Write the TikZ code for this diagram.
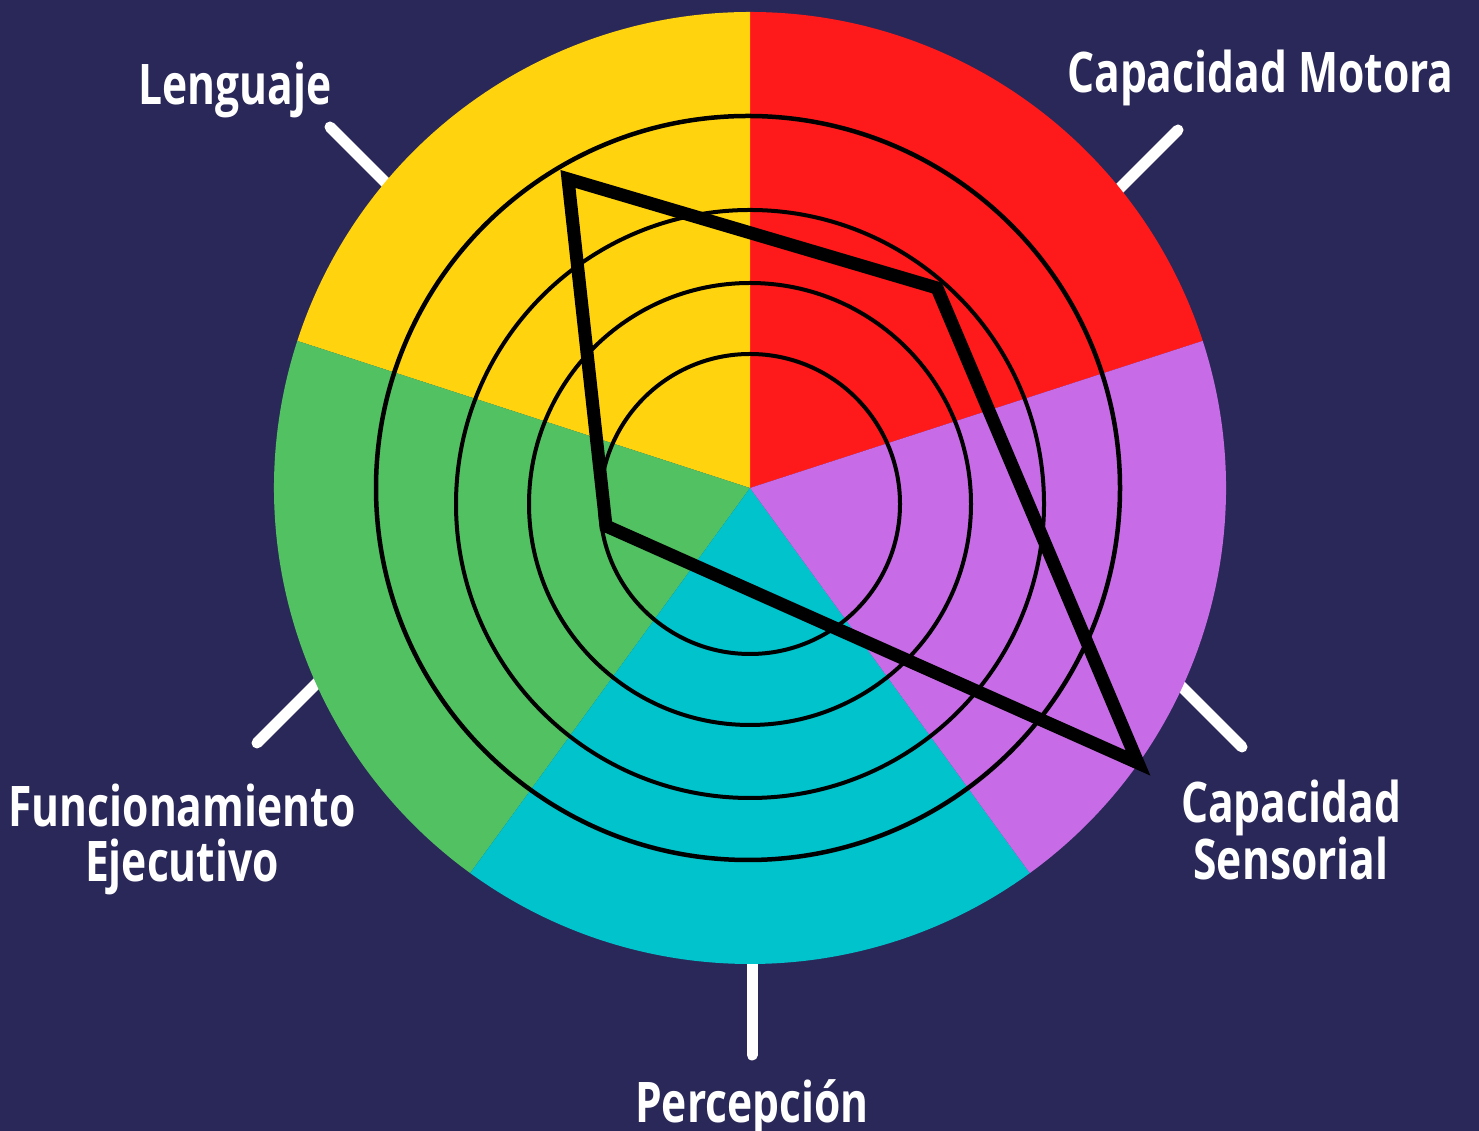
\documentclass[tikz,border=0pt]{standalone}
\usepackage{fontspec}
\newfontfamily\lab{Open Sans}[FakeStretch=0.76]
\definecolor{bg}{HTML}{2A2858}
\definecolor{cyel}{HTML}{FFD30D}
\definecolor{cred}{HTML}{FE1A1A}
\definecolor{cpur}{HTML}{C86BE6}
\definecolor{ccya}{HTML}{00C3CC}
\definecolor{cgre}{HTML}{52C162}
\begin{document}
\begin{tikzpicture}[x=1pt,y=1pt,
  tickline/.style={draw=white,line width=11pt,line cap=round},
  ring/.style={draw=black,line width=4pt},
  lbl/.style={text=white,font=\lab\bfseries\fontsize{56pt}{55pt}\selectfont,inner sep=0pt,align=center}]
\fill[bg] (0,0) rectangle (1479,1131);
\useasboundingbox (0,0) rectangle (1479,1131);
\coordinate (C) at (750,643);
% ticks (inner ends hidden under the disk)
\coordinate (t1a) at (330,1004); \coordinate (t1b) at (420,914);
\coordinate (t2a) at (1178,1001); \coordinate (t2b) at (1090,913);
\coordinate (t3a) at (1242,384); \coordinate (t3b) at (1160,466);
\coordinate (t4a) at (257,388); \coordinate (t4b) at (340,471);
\coordinate (t5a) at (752,76); \coordinate (t5b) at (752,191);
\draw[tickline] (t1a) -- (t1b);
\draw[tickline] (t2a) -- (t2b);
\draw[tickline] (t3a) -- (t3b);
\draw[tickline] (t4a) -- (t4b);
\draw[tickline] (t5a) -- (t5b);
% sectors
\fill[cred] (C) -- ++(18:476pt) arc[start angle=18,end angle=90,radius=476pt] -- cycle;
\fill[cyel] (C) -- ++(90:476pt) arc[start angle=90,end angle=162,radius=476pt] -- cycle;
\fill[cgre] (C) -- ++(162:476pt) arc[start angle=162,end angle=234,radius=476pt] -- cycle;
\fill[ccya] (C) -- ++(234:476pt) arc[start angle=234,end angle=306,radius=476pt] -- cycle;
\fill[cpur] (C) -- ++(306:476pt) arc[start angle=306,end angle=378,radius=476pt] -- cycle;
% rings
\coordinate (R) at (750,627);
\draw[ring] (R) circle[radius=150pt];
\draw[ring] (R) circle[radius=221pt];
\draw[ring] (R) circle[radius=294pt];
\draw[ring,line width=4.5pt] (748,643) circle[radius=372pt];
% profile polygon
\coordinate (p1) at (568,952);
\coordinate (p2) at (937,843);
\coordinate (p3) at (1138,368);
\coordinate (p4) at (606,605);
\draw[line width=13pt,line join=miter] (p1) -- (p2) -- (p3) -- (p4) -- cycle;
% labels
\node[lbl,anchor=base west] (len) at (138,1026) {Lenguaje};
\node[lbl,anchor=base west] (mot) at (1067,1038) {Capacidad Motora};
\node[lbl,anchor=base] (fun) at (182,249) {Funcionamiento\\Ejecutivo};
\node[lbl,anchor=base] (sen) at (1291,251) {Capacidad\\Sensorial};
\node[lbl,anchor=base] (per) at (752,8) {Percepción};
\end{tikzpicture}
\end{document}
